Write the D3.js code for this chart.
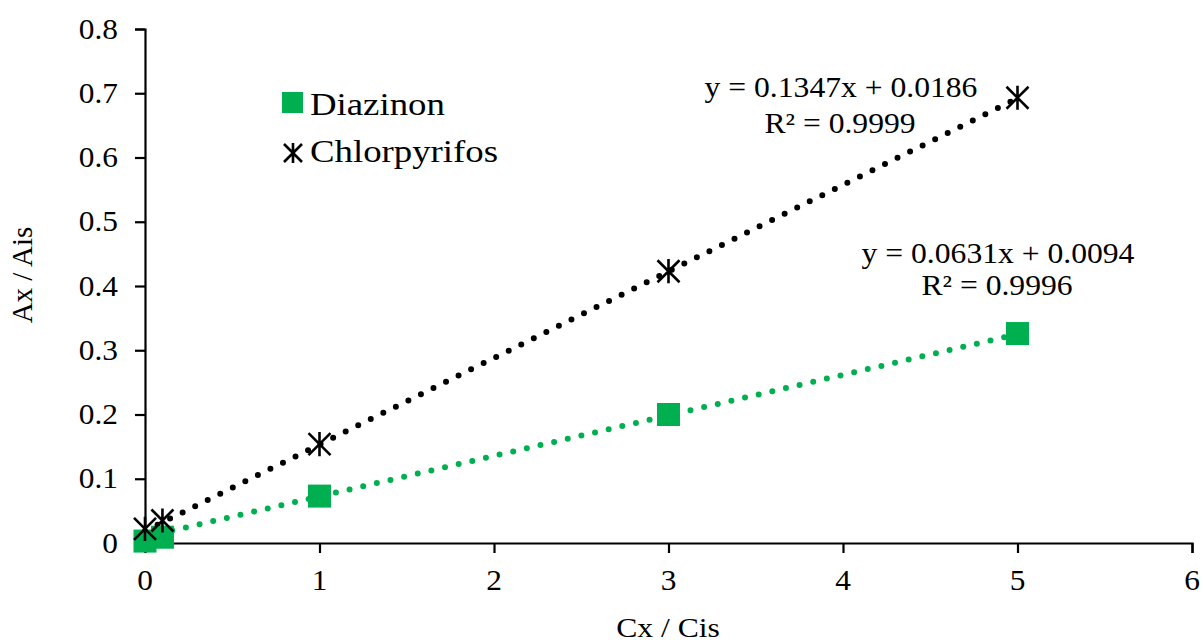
<!DOCTYPE html>
<html>
<head>
<meta charset="utf-8">
<script src="https://cdn.jsdelivr.net/npm/d3@7"></script>
<style>
  body { margin: 0; background: #fff; }
  text { white-space: pre; }
</style>
</head>
<body>
<svg id="chart" width="1203" height="642"></svg>
<script>
// Calibration data
var xValues = [0, 0.1, 1, 3, 5];
var diazinon = [0.003, 0.009, 0.073, 0.2, 0.326];
var chlorpyrifos = [0.022, 0.035, 0.154, 0.423, 0.693];

// Trendline coefficients as printed on the chart [slope, intercept]
var diazinonFit = [0.0631, 0.0094];
var chlorpyrifosFit = [0.1347, 0.0186];

var xTicks = [0, 1, 2, 3, 4, 5, 6];
var yTicks = [0, 0.1, 0.2, 0.3, 0.4, 0.5, 0.6, 0.7, 0.8];

var green = '#00b050';
var font = 'Liberation Serif';

var svg = d3.select('#chart');

var x = d3.scaleLinear().domain([0, 6]).range([145, 1192]);
var y = d3.scaleLinear().domain([0, 0.8]).range([543, 29]);

// text is slightly wider than tall in the original, so stretch it a bit
function label(px, py, str, size, sx, anchor) {
    return svg.append('text')
        .attr('transform', 'translate(' + px + ',' + py + ') scale(' + sx + ',1)')
        .attr('font-family', font)
        .attr('font-size', size)
        .attr('fill', '#000')
        .attr('text-anchor', anchor || 'start')
        .text(str);
}

// axes
var yAxis = d3.axisLeft(y).tickValues(yTicks).tickSize(10);
var xAxis = d3.axisBottom(x).tickValues(xTicks).tickSize(10);

var yG = svg.append('g').attr('transform', 'translate(' + x(0) + ',0)').call(yAxis);
var xG = svg.append('g').attr('transform', 'translate(0,' + y(0) + ')').call(xAxis);

[yG, xG].forEach(function(g) {
    g.select('.domain').attr('stroke', '#000').attr('stroke-width', 2.2);
    g.selectAll('.tick line').attr('stroke', '#000').attr('stroke-width', 2.2);
    g.selectAll('.tick text').remove();
});

yTicks.forEach(function(v) {
    label(118, y(v) + 9.5, v === 0 ? '0' : d3.format('.1f')(v), 29, 1.08, 'end');
});
xTicks.forEach(function(v) {
    label(x(v), 590, String(v), 29, 1.08, 'middle');
});

// axis titles
label(668, 637, 'Cx / Cis', 28, 1.13, 'middle');
svg.append('text')
    .attr('transform', 'translate(32,275) rotate(-90)')
    .attr('font-family', font)
    .attr('font-size', 29)
    .attr('text-anchor', 'middle')
    .text('Ax / Ais');

// dotted trendlines
function trend(fit, color) {
    var x0 = d3.min(xValues), x1 = d3.max(xValues);
    svg.append('line')
        .attr('x1', x(x0)).attr('y1', y(fit[0] * x0 + fit[1]))
        .attr('x2', x(x1)).attr('y2', y(fit[0] * x1 + fit[1]))
        .attr('stroke', color)
        .attr('stroke-width', 6)
        .attr('stroke-linecap', 'round')
        .attr('stroke-dasharray', '0 14');
}
trend(diazinonFit, green);
trend(chlorpyrifosFit, '#000');

// markers
function square(g, cx, cy, s) {
    g.append('rect')
        .attr('x', cx - s / 2).attr('y', cy - s / 2)
        .attr('width', s).attr('height', s)
        .attr('fill', green);
}
function star(g, cx, cy, r) {
    var d = 'M' + (cx - r) + ',' + (cy - r) + 'L' + (cx + r) + ',' + (cy + r) +
            'M' + (cx - r) + ',' + (cy + r) + 'L' + (cx + r) + ',' + (cy - r) +
            'M' + cx + ',' + (cy - r * 1.1) + 'L' + cx + ',' + (cy + r * 1.1);
    g.append('path').attr('d', d).attr('stroke', '#000').attr('stroke-width', 2.6).attr('fill', 'none');
}

var markG = svg.append('g');
xValues.forEach(function(v, i) { square(markG, x(v), y(diazinon[i]), 23); });
xValues.forEach(function(v, i) { star(markG, x(v), y(chlorpyrifos[i]), 11); });

// equations
label(841, 97, 'y = ' + chlorpyrifosFit[0] + 'x + ' + chlorpyrifosFit[1], 28.5, 1.11, 'middle');
label(840, 133, 'R² = 0.9999', 28.5, 1.11, 'middle');
label(998, 263, 'y = ' + diazinonFit[0] + 'x + ' + diazinonFit[1], 28.5, 1.11, 'middle');
label(997, 295, 'R² = 0.9996', 28.5, 1.11, 'middle');

// legend
square(svg, 292.5, 102.5, 21);
label(310, 115, 'Diazinon', 32, 1.15, 'start');
star(svg, 293, 153, 9);
label(310, 162, 'Chlorpyrifos', 32, 1.15, 'start');
</script>
</body>
</html>
